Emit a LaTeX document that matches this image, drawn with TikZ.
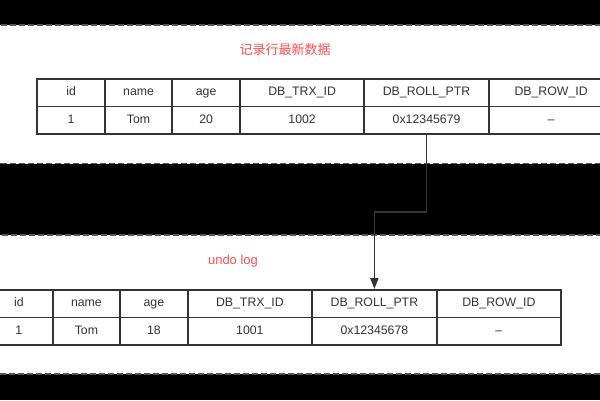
\documentclass[tikz,border=0pt]{standalone}
\usepackage{fontspec}
\setmainfont{Liberation Sans}
\newfontfamily\cjk{Noto Sans CJK SC}
\usetikzlibrary{arrows.meta,positioning,calc}
\definecolor{inkgray}{HTML}{333333}
\definecolor{notered}{HTML}{FF4D4F}
\definecolor{dashgray}{HTML}{555555}

\begin{document}
\begin{tikzpicture}[
  x=1pt, y=-1pt,
  panel/.style={
    fill=white, draw=dashgray, dash pattern=on 6pt off 3pt,
    line width=1.2pt
  },
  cell/.style={
    rectangle, draw=inkgray, line width=1.9pt,
    minimum height=27.5pt, inner sep=0pt, anchor=north west,
    text height=8.6pt, text depth=2.4pt,
    font=\fontsize{12.3}{14}\selectfont, text=inkgray
  },
  note/.style={text=notered, font=\fontsize{13}{15}\selectfont},
  arr/.style={-{Triangle[length=11pt,width=8pt]}, draw=inkgray, line width=1.7pt}
]

\useasboundingbox (0,0) rectangle (600,400);
\clip (0,0) rectangle (600,400);
\fill[black] (0,0) rectangle (600,400);

% the two record panels
\draw[panel] (-5,25) rectangle (605,163.5);
\draw[panel] (-5,235) rectangle (605,374);

\node[note] (newTitle) at (285,50)  {\cjk 记录行最新数据};
\node[note] (oldTitle) at (233,261) {undo log};

% rows: newest record on top, undo log copy below
\foreach \i/\off/\w/\head/\newv/\oldv in {
  1/0/67.5/id/1/1,
  2/67.5/67.5/name/Tom/Tom,
  3/135/67.5/age/20/18,
  4/202.5/124.5/DB\_TRX\_ID/1002/1001,
  5/327/124.5/DB\_ROLL\_PTR/0x12345679/0x12345678,
  6/451.5/124.5/DB\_ROW\_ID/–/–}
{
  \node[cell, minimum width=\w pt] (newH\i) at (36.4+\off, 78)    {\head};
  \node[cell, minimum width=\w pt] (newV\i) at (36.4+\off, 105.5) {\newv};
  \node[cell, minimum width=\w pt] (oldH\i) at (-15.8+\off, 289)  {\head};
  \node[cell, minimum width=\w pt] (oldV\i) at (-15.8+\off, 316.5) {\oldv};
}

\draw[arr] (newV5.south) -- ++(0,77) -| (oldH5.north);

\end{tikzpicture}
\end{document}
